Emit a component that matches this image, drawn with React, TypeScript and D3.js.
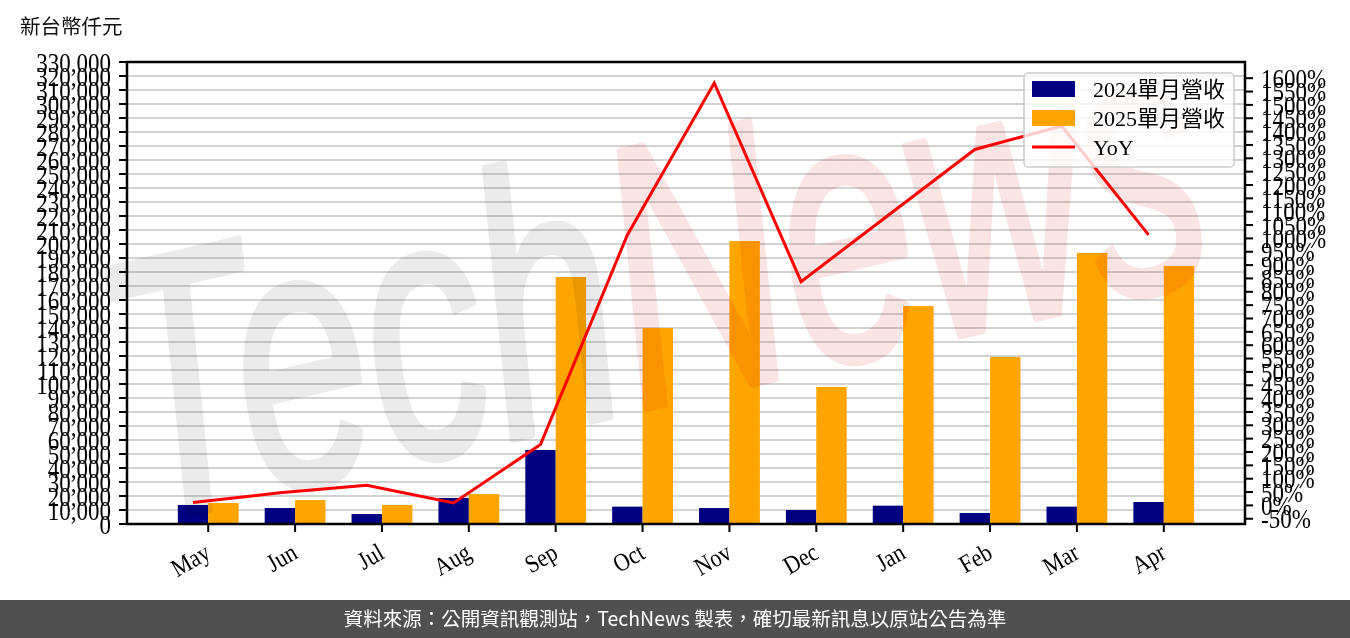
import React from 'react';
import * as d3 from 'd3';

const months = ['May', 'Jun', 'Jul', 'Aug', 'Sep', 'Oct', 'Nov', 'Dec', 'Jan', 'Feb', 'Mar', 'Apr'];
const rev2024 = [13600, 11400, 7100, 18600, 52900, 12400, 11400, 10000, 13100, 7900, 12400, 15700];
const rev2025 = [15000, 17100, 13600, 21400, 176400, 140000, 202100, 97900, 155700, 119300, 193600, 184300];
const yoy = [11, 47, 75, 9, 228, 1013, 1582, 838, 1086, 1333, 1421, 1013];
const leftTicks = d3.range(0, 330001, 10000);
const rightTicks = d3.range(-50, 1601, 50);
const legendLabels = ['2024單月營收', '2025單月營收', 'YoY'];
const unitLabel = '新台幣仟元';
const footerText = '資料來源：公開資訊觀測站，TechNews 製表，確切最新訊息以原站公告為準';

const W = 1350, H = 638;
const L = 127, R = 1245, T = 62, B = 524;
const NAVY = '#000080', ORANGE = '#FFA500', RED = '#FF0000';
const SERIF = '"Liberation Serif", "Noto Sans CJK TC", serif';
const CJK = '"Noto Sans CJK TC", "Noto Sans", sans-serif';

export default function App() {
  const barW = 0.35;
  const x = d3.scaleLinear().domain([-barW - 0.05 * (11 + 2 * barW), 11 + barW + 0.05 * (11 + 2 * barW)]).range([L, R]);
  const yL = d3.scaleLinear().domain([0, 330000]).range([B, T]);
  const ymin = d3.min(yoy)!, ymax = d3.max(yoy)!;
  const rng = ymax - ymin;
  const yR = d3.scaleLinear().domain([ymin - 0.05 * rng, ymax + 0.05 * rng]).range([B, T]);
  const unit = x(1) - x(0);
  const bw = barW * unit;
  const line = d3.line<number>().x((_, i) => x(i - barW / 2)).y(d => yR(d));
  const fmt = d3.format(',');

  return (
    <svg width={W} height={H} style={{ position: 'absolute', left: 0, top: 0, background: '#fff' }}>
      <rect x={0} y={0} width={W} height={H} fill="#fff" />
      <text x={20} y={34} fontFamily={CJK} fontSize={20.5} fill="#111">{unitLabel}</text>

      {/* gridlines */}
      {leftTicks.filter(t => t > 0 && t < 330000).map(t => (
        <line key={'g' + t} x1={L} x2={R} y1={yL(t)} y2={yL(t)} stroke="#d3d3d3" strokeWidth={2} />
      ))}

      {/* bars */}
      {months.map((m, i) => (
        <g key={m}>
          <rect x={x(i) - bw} y={yL(rev2024[i])} width={bw} height={B - yL(rev2024[i])} fill={NAVY} />
          <rect x={x(i)} y={yL(rev2025[i])} width={bw} height={B - yL(rev2025[i])} fill={ORANGE} />
        </g>
      ))}

      {/* watermark */}
      <g style={{ mixBlendMode: 'multiply' }}>
        <text transform="translate(140,525) rotate(-13) scale(1,1.55)" fontFamily='"Liberation Sans", sans-serif'
          fontStyle="italic" fontSize={240} strokeWidth={5} strokeLinejoin="round">
          <tspan fill="#ebebeb" stroke="#ebebeb">Tech</tspan>
          <tspan fill="#fbe4e4" stroke="#fbe4e4">News</tspan>
        </text>
      </g>

      {/* YoY line */}
      <path d={line(yoy)!} fill="none" stroke={RED} strokeWidth={3} strokeLinejoin="miter" />

      {/* spines */}
      <rect x={L} y={T} width={R - L} height={B - T} fill="none" stroke="#000" strokeWidth={2.5} />

      {/* left axis */}
      {leftTicks.map(t => (
        <g key={'l' + t}>
          <line x1={L - 8} x2={L} y1={yL(t)} y2={yL(t)} stroke="#000" strokeWidth={2} />
          <text transform={`translate(${L - 16},${yL(t)}) scale(1,1.2)`} dy="0.35em" textAnchor="end"
            fontFamily={SERIF} fontSize={23} fill="#000">{fmt(t)}</text>
        </g>
      ))}

      {/* right axis */}
      {rightTicks.map(t => (
        <g key={'r' + t}>
          <line x1={R} x2={R + 8} y1={yR(t)} y2={yR(t)} stroke="#000" strokeWidth={2} />
          <text transform={`translate(${R + 16},${yR(t)}) scale(1,1.2)`} dy="0.35em" textAnchor="start"
            fontFamily={SERIF} fontSize={23} fill="#000">{t + '%'}</text>
        </g>
      ))}

      {/* bottom axis */}
      {months.map((m, i) => (
        <g key={'b' + m}>
          <line x1={x(i)} x2={x(i)} y1={B} y2={B + 8} stroke="#000" strokeWidth={2} />
          <text transform={`translate(${x(i) - 5},${B + 18}) rotate(-30) scale(1,1.15)`} textAnchor="end" dy="0.7em"
            fontFamily={SERIF} fontSize={22} fill="#000">{m}</text>
        </g>
      ))}

      {/* legend */}
      <g>
        <rect x={1024} y={73} width={210} height={94} rx={4} fill="#fff" fillOpacity={0.8} stroke="#cccccc" strokeWidth={1.5} />
        <rect x={1032} y={81} width={43} height={16} fill={NAVY} />
        <rect x={1032} y={110} width={43} height={16} fill={ORANGE} />
        <line x1={1032} x2={1075} y1={147} y2={147} stroke={RED} strokeWidth={3} />
        {legendLabels.map((lab, i) => (
          <text key={lab} x={1093} y={97 + i * 29} fontFamily={SERIF} fontSize={22} fill="#000">{lab}</text>
        ))}
      </g>

      {/* footer */}
      <rect x={0} y={600} width={W} height={38} fill="#505050" />
      <text x={W / 2} y={626} textAnchor="middle" fontFamily={CJK} fontSize={19.5} fill="#fff">{footerText}</text>
    </svg>
  );
}
